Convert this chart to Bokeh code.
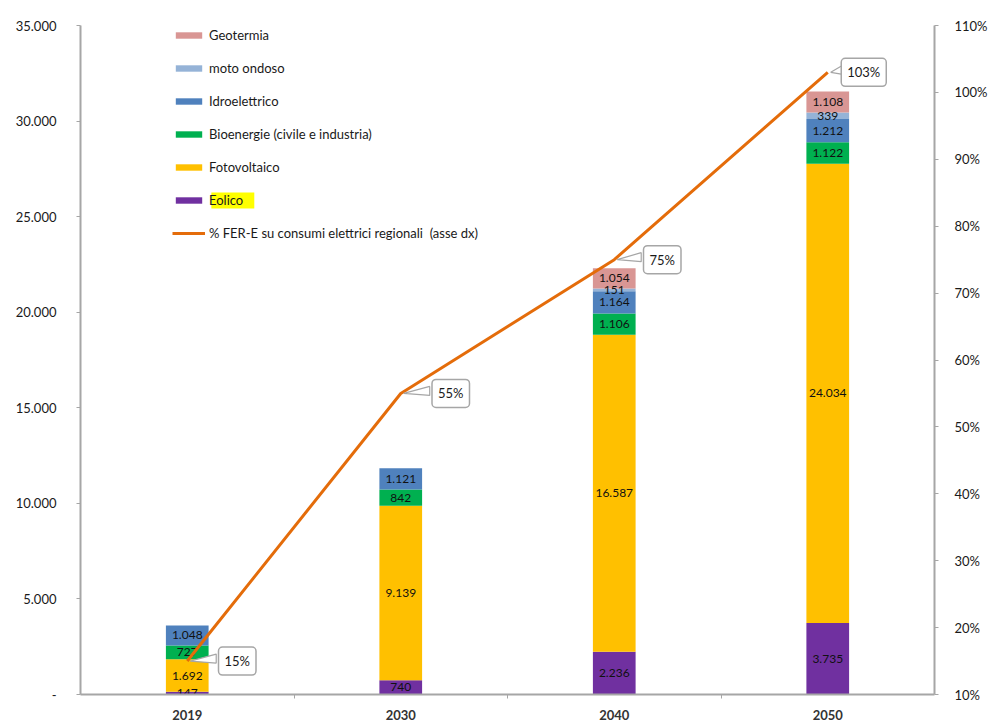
import numpy as np
from bokeh.plotting import figure
from bokeh.models import (Range1d, LinearAxis, FixedTicker, Legend, LegendItem,
                          Label, BoxAnnotation, ColumnDataSource)
from bokeh.core.properties import value
from bokeh.embed import file_html
from bokeh.resources import INLINE

# ---- data -------------------------------------------------------------
years = ["2019", "2030", "2040", "2050"]
eolico = [147, 740, 2236, 3735]
fotovoltaico = [1692, 9139, 16587, 24034]
bioenergie = [727, 842, 1106, 1122]
idroelettrico = [1048, 1121, 1164, 1212]
moto_ondoso = [0, 0, 151, 339]
geotermia = [0, 0, 1054, 1108]
fer_e_pct = [15, 55, 75, 103]

gwh_ticks = [0, 5000, 10000, 15000, 20000, 25000, 30000, 35000]
gwh_tick_labels = ["-", "5.000", "10.000", "15.000", "20.000", "25.000", "30.000", "35.000"]
pct_ticks = [10, 20, 30, 40, 50, 60, 70, 80, 90, 100, 110]
pct_tick_labels = ["10%", "20%", "30%", "40%", "50%", "60%", "70%", "80%", "90%", "100%", "110%"]

series_names = ["Eolico", "Fotovoltaico", "Bioenergie (civile e industria)",
                "Idroelettrico", "moto ondoso", "Geotermia"]
series_values = [eolico, fotovoltaico, bioenergie, idroelettrico, moto_ondoso, geotermia]
line_name = "% FER-E su consumi elettrici regionali  (asse dx)"

# ---- style ------------------------------------------------------------
series_colors = ["#7030a0", "#ffc000", "#00b050", "#4f81bd", "#95b3d7", "#d99694"]
line_color = "#e46c0a"
axis_color = "#a6a6a6"
text_color = "#1a1a1a"
FONT = "Lato"

W, H = 990, 722
FRAME_LEFT, FRAME_RIGHT, FRAME_TOP, FRAME_BOTTOM = 80, 935, 25, 694
X_START, X_END = -0.5, len(years) - 0.5
Y_MAX = gwh_ticks[-1]
P_MIN, P_MAX = pct_ticks[0], pct_ticks[-1]

px_per_x = (FRAME_RIGHT - FRAME_LEFT) / (X_END - X_START)
px_per_pct = (FRAME_BOTTOM - FRAME_TOP) / (P_MAX - P_MIN)


def x_at(px):
    return X_START + (px - FRAME_LEFT) / px_per_x


def gwh_at(py):
    return (FRAME_BOTTOM - py) / (FRAME_BOTTOM - FRAME_TOP) * Y_MAX


def fmt_it(v):
    return f"{v:,}".replace(",", ".")


xs = list(range(len(years)))

p = figure(width=W, height=H,
           x_range=Range1d(X_START, X_END), y_range=Range1d(0, Y_MAX),
           output_backend="svg", toolbar_location=None,
           min_border_left=FRAME_LEFT, min_border_right=W - FRAME_RIGHT,
           min_border_top=FRAME_TOP, min_border_bottom=H - FRAME_BOTTOM)
p.extra_y_ranges = {"pct": Range1d(P_MIN, P_MAX)}
p.xgrid.visible = False
p.ygrid.visible = False
p.outline_line_color = None
p.background_fill_color = "white"
p.border_fill_color = "white"

# ---- stacked bars -----------------------------------------------------
keys = [f"s{i}" for i in range(len(series_names))]
src = ColumnDataSource(dict(x=xs, **{k: v for k, v in zip(keys, series_values)}))
bar_renderers = p.vbar_stack(keys, x="x", width=0.2, source=src,
                             color=series_colors, line_width=0)

# value labels centred in each segment
lab_x, lab_y, lab_t = [], [], []
stack = np.array(series_values, dtype=float)
tops = np.cumsum(stack, axis=0)
for si in range(stack.shape[0]):
    for xi in range(stack.shape[1]):
        v = series_values[si][xi]
        if v <= 0:
            continue
        lab_x.append(xs[xi])
        lab_y.append(tops[si, xi] - v / 2.0)
        lab_t.append(fmt_it(v))
p.text(x=lab_x, y=lab_y, text=lab_t, text_align="center", text_baseline="middle",
       text_font=value(FONT), text_font_size="12px", text_color="#111111")

# ---- percentage line --------------------------------------------------
line_r = p.line(x=xs, y=fer_e_pct, y_range_name="pct", line_color=line_color,
                line_width=3)

# callout boxes for the percentages
box_offsets = [50, 50, 48, 36]
box_half_w = 21
wedge_xs, wedge_ys = [], []
for xi, pv, off in zip(xs, fer_e_pct, box_offsets):
    base_x = xi + (off - box_half_w) / px_per_x
    wedge_xs.append([xi + 3 / px_per_x, base_x, base_x])
    wedge_ys.append([pv, pv + 7 / px_per_pct, pv - 2 / px_per_pct])
p.patches(wedge_xs, wedge_ys, y_range_name="pct", fill_color="white",
          line_color=axis_color, line_width=1.2)
for xi, pv, off in zip(xs, fer_e_pct, box_offsets):
    p.add_layout(Label(x=xi, y=pv, y_range_name="pct", x_offset=off,
                       text=f"{pv}%", text_align="center", text_baseline="middle",
                       text_font=FONT, text_font_size="13px", text_color=text_color,
                       background_fill_color="white", border_line_color=axis_color,
                       border_line_width=1.5, padding=6, border_radius=4))

# ---- axes -------------------------------------------------------------
yax = p.yaxis[0]
yax.ticker = FixedTicker(ticks=gwh_ticks, minor_ticks=[])
yax.major_label_overrides = {t: l for t, l in zip(gwh_ticks, gwh_tick_labels)}
yax.axis_line_color = axis_color
yax.axis_line_width = 2
yax.major_tick_line_color = axis_color
yax.major_tick_in = 0
yax.major_tick_out = 4
yax.major_label_standoff = 20
yax.major_label_text_font = FONT
yax.major_label_text_font_size = "13px"
yax.major_label_text_color = text_color

xax = p.xaxis[0]
xax.ticker = FixedTicker(ticks=xs, minor_ticks=[x + 0.5 for x in xs[:-1]])
xax.major_label_overrides = {x: y for x, y in zip(xs, years)}
xax.axis_line_color = axis_color
xax.axis_line_width = 2
xax.major_tick_in = 0
xax.major_tick_out = 0
xax.minor_tick_in = 0
xax.minor_tick_out = 4
xax.minor_tick_line_color = axis_color
xax.major_label_standoff = 11
xax.major_label_text_font = FONT
xax.major_label_text_font_size = "13px"
xax.major_label_text_font_style = "bold"
xax.major_label_text_color = "#333333"

rax = LinearAxis(y_range_name="pct",
                 ticker=FixedTicker(ticks=pct_ticks, minor_ticks=[]))
rax.major_label_overrides = {t: l for t, l in zip(pct_ticks, pct_tick_labels)}
rax.axis_line_color = axis_color
rax.axis_line_width = 2
rax.major_tick_line_color = axis_color
rax.major_tick_in = 0
rax.major_tick_out = 4
rax.major_label_standoff = 16
rax.major_label_text_font = FONT
rax.major_label_text_font_size = "13px"
rax.major_label_text_color = text_color
p.add_layout(rax, "right")

# unit label
p.add_layout(Label(x=x_at(33), y=gwh_at(75), text="GWh", text_align="center",
                   text_baseline="middle", text_font=FONT, text_font_size="16px",
                   text_font_style="bold", text_color="#1e8c46"))

# ---- legend -----------------------------------------------------------
legend_rows = 7
row_h, row_gap = 20, 13
legend_left_px = 172
legend_height = legend_rows * row_h + (legend_rows - 1) * row_gap
eolico_row_center = FRAME_TOP + 5 * (row_h + row_gap) + row_h / 2
p.add_layout(BoxAnnotation(left=x_at(211), right=x_at(254),
                           top=gwh_at(eolico_row_center - 8),
                           bottom=gwh_at(eolico_row_center + 8),
                           fill_color="#ffff00", fill_alpha=1.0, line_alpha=0))

items = [LegendItem(label=series_names[i], renderers=[bar_renderers[i]])
         for i in reversed(range(len(series_names)))]
items.append(LegendItem(label=line_name, renderers=[line_r]))
legend = Legend(items=items,
                location=(legend_left_px - FRAME_LEFT,
                          FRAME_BOTTOM - FRAME_TOP - legend_height),
                glyph_width=33, glyph_height=8, label_height=row_h,
                spacing=row_gap, padding=0, margin=0, label_standoff=4,
                label_text_font=FONT, label_text_font_size="13px",
                label_text_color=text_color,
                background_fill_alpha=0, border_line_alpha=0)
p.add_layout(legend)

open("out.html", "w").write(file_html(p, INLINE))
